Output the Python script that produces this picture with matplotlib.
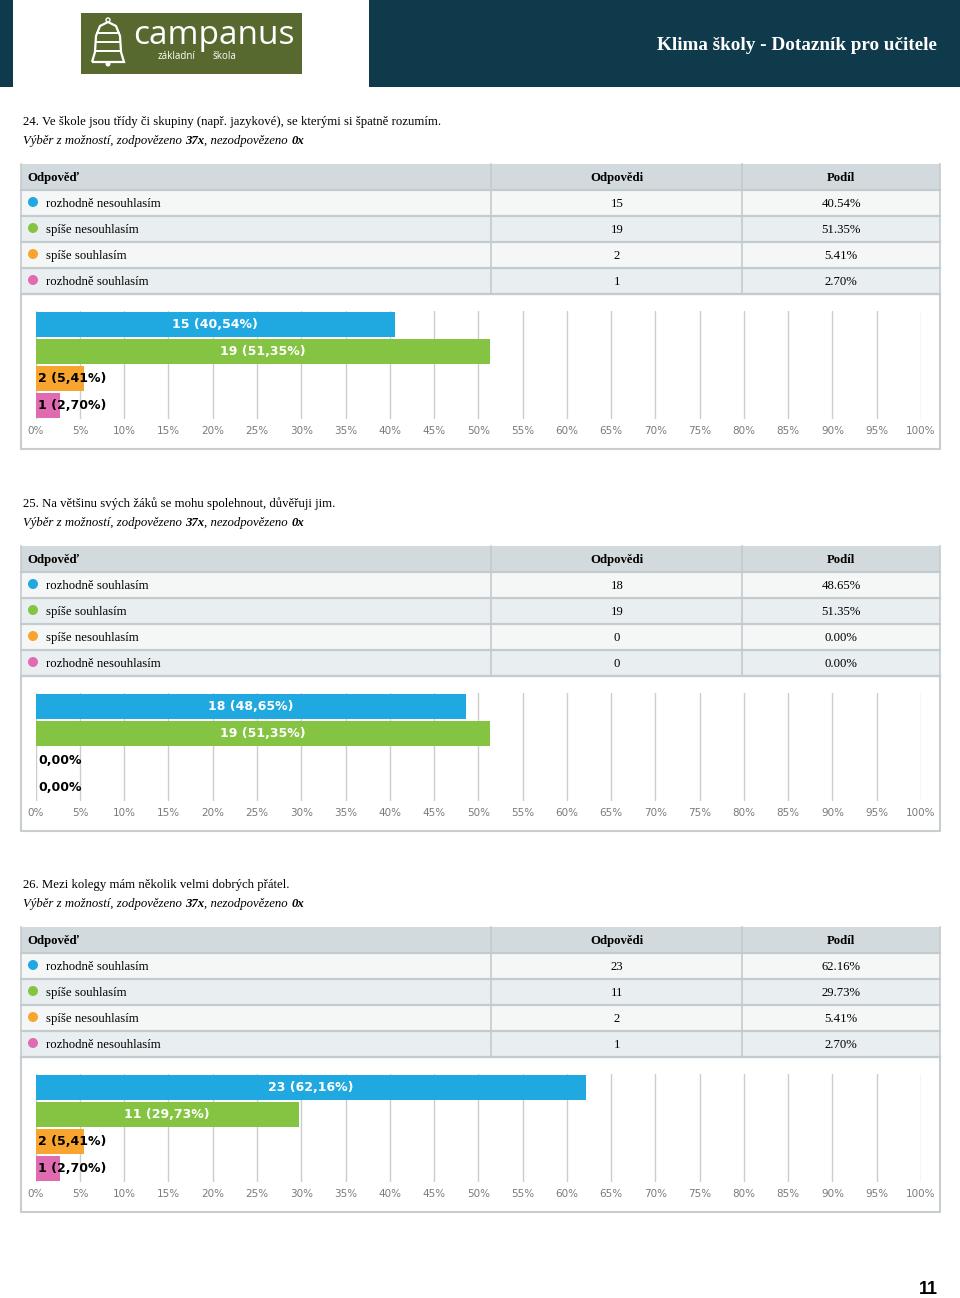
import matplotlib.pyplot as plt
from matplotlib.patches import Rectangle, Circle, PathPatch
from matplotlib.path import Path

plt.rcParams['font.family'] = ['Liberation Serif', 'DejaVu Serif']

# data
titles = [
    "24. Ve škole jsou třídy či skupiny (např. jazykové), se kterými si špatně rozumím.",
    "25. Na většinu svých žáků se mohu spolehnout, důvěřuji jim.",
    "26. Mezi kolegy mám několik velmi dobrých přátel.",
]
answered = [37, 37, 37]
unanswered = [0, 0, 0]

options_24 = ["rozhodně nesouhlasím", "spíše nesouhlasím", "spíše souhlasím", "rozhodně souhlasím"]
counts_24 = [15, 19, 2, 1]
shares_24 = [40.54, 51.35, 5.41, 2.70]

options_25 = ["rozhodně souhlasím", "spíše souhlasím", "spíše nesouhlasím", "rozhodně nesouhlasím"]
counts_25 = [18, 19, 0, 0]
shares_25 = [48.65, 51.35, 0.00, 0.00]

options_26 = ["rozhodně souhlasím", "spíše souhlasím", "spíše nesouhlasím", "rozhodně nesouhlasím"]
counts_26 = [23, 11, 2, 1]
shares_26 = [62.16, 29.73, 5.41, 2.70]

ticks_pct = [0, 5, 10, 15, 20, 25, 30, 35, 40, 45, 50, 55, 60, 65, 70, 75, 80, 85, 90, 95, 100]
col_headers = ["Odpověď", "Odpovědi", "Podíl"]
page_title = "Klima školy - Dotazník pro učitele"
page_no = "11"

colors = ['#20a8e0', '#85c443', '#f8a52f', '#e06bb0']
dark = '#0f3a4b'

W, H = 960, 1298
fig = plt.figure(figsize=(W / 100, H / 100), dpi=100)
ax = fig.add_axes([0, 0, 1, 1])
ax.set_xlim(0, W)
ax.set_ylim(H, 0)
ax.axis('off')


def rect(x0, y0, x1, y1, **kw):
    ax.add_patch(Rectangle((x0, y0), x1 - x0, y1 - y0, **kw))


# header band
rect(0, 0, 13, 87, fc=dark, ec='none')
rect(369, 0, W, 87, fc=dark, ec='none')
ax.text(937, 45, page_title, color='white', fontsize=13.8, fontweight='bold',
        ha='right', va='center')

# logo
rect(81, 13, 302, 74, fc='#57692f', ec='none')
bell = Path([(92, 62), (95, 52), (96, 36), (100, 26), (108, 22), (116, 26),
             (120, 36), (121, 52), (124, 62), (92, 62)])
ax.add_patch(PathPatch(bell, fc='none', ec='white', lw=1.6))
for yy in (33, 42, 51):
    ax.plot([97, 119], [yy, yy], color='white', lw=1.4)
ax.add_patch(Circle((108, 64), 2.5, fc='white', ec='none'))
ax.add_patch(Circle((108, 20), 2, fc='none', ec='white', lw=1))
ax.text(133, 44, "campanus", color='white', fontsize=24, family='Open Sans',
        ha='left', va='baseline')
ax.text(158, 59, "základní", color='white', fontsize=7, family='Open Sans',
        ha='left', va='baseline')
ax.text(213, 59, "škola", color='white', fontsize=7, family='Open Sans',
        ha='left', va='baseline')

fig.canvas.draw()
renderer = fig.canvas.get_renderer()


def run_text(x, y, parts, **kw):
    # place text pieces one after another on a line
    for s, style, weight in parts:
        t = ax.text(x, y, s, fontstyle=style, fontweight=weight, ha='left',
                    va='center', **kw)
        x += t.get_window_extent(renderer).width


sections = [
    (options_24, counts_24, shares_24),
    (options_25, counts_25, shares_25),
    (options_26, counts_26, shares_26),
]
offsets = [0, 382, 763]
fs = 9.2
row_h = 26

for k, (opts, cnts, shs) in enumerate(sections):
    o = offsets[k]
    ax.text(23, 122 + o, titles[k], fontsize=fs, ha='left', va='center')
    run_text(23, 141 + o, [
        ("Výběr z možností, zodpovězeno ", 'italic', 'normal'),
        (f"{answered[k]}x", 'italic', 'bold'),
        (", nezodpovězeno ", 'italic', 'normal'),
        (f"{unanswered[k]}x", 'italic', 'bold'),
    ], fontsize=fs)

    # table
    top = 164 + o
    hdr_b = 190 + o
    rect(21, top, 940, hdr_b, fc='#d2dadd', ec='none')
    ax.text(27, (top + hdr_b) / 2 + 1, col_headers[0], fontsize=fs, fontweight='bold', va='center')
    ax.text(617, (top + hdr_b) / 2 + 1, col_headers[1], fontsize=fs, fontweight='bold',
            va='center', ha='center')
    ax.text(841, (top + hdr_b) / 2 + 1, col_headers[2], fontsize=fs, fontweight='bold',
            va='center', ha='center')
    for i in range(len(opts)):
        y0 = hdr_b + i * row_h
        y1 = y0 + row_h
        rect(21, y0, 940, y1, fc='#f5f7f7' if i % 2 == 0 else '#e9eef0', ec='none')
        ax.plot([21, 940], [y0, y0], color='#c3cbcf', lw=1.6)
        yc = (y0 + y1) / 2
        ax.add_patch(Circle((33, yc - 1), 5, fc=colors[i], ec='none'))
        ax.text(46, yc + 1, opts[i], fontsize=fs, va='center')
        ax.text(617, yc + 1, str(cnts[i]), fontsize=fs, va='center', ha='center')
        ax.text(841, yc + 1, f"{shs[i]:.2f}%", fontsize=fs, va='center', ha='center')
    tab_b = hdr_b + len(opts) * row_h
    ax.plot([21, 940], [tab_b, tab_b], color='#c3cbcf', lw=1.6)
    for xx in (491, 742):
        ax.plot([xx, xx], [top, tab_b], color='#c3cbcf', lw=1.2)
    ax.plot([21, 21], [top, tab_b], color='#c3cbcf', lw=1.2)
    ax.plot([940, 940], [top, tab_b], color='#c3cbcf', lw=1.2)

    # chart box
    rect(21, tab_b, 940, 449 + o, fc='white', ec='#c8cdcf', lw=1.5)

    # bar chart
    x0, x1 = 35.7, 921
    y0, y1 = 311 + o, 419 + o
    bax = fig.add_axes([x0 / W, 1 - y1 / H, (x1 - x0) / W, (y1 - y0) / H])
    bax.set_facecolor('none')
    ypos = list(range(len(opts)))
    bax.barh(ypos, shs, height=0.93, color=colors, zorder=2)
    bax.set_xlim(0, 100)
    bax.set_ylim(len(opts) - 0.5, -0.5)
    bax.set_xticks(ticks_pct)
    bax.set_xticklabels([f"{t}%" for t in ticks_pct], fontsize=7.5, color='#7a7a7a',
                        family='DejaVu Sans')
    bax.tick_params(axis='x', length=0, pad=5)
    bax.set_yticks([])
    bax.grid(True, axis='x', color='#cccccc', lw=1, zorder=0)
    bax.set_axisbelow(True)
    for s in bax.spines.values():
        s.set_visible(False)
    for i, (c, s) in enumerate(zip(cnts, shs)):
        if c == 0:
            lab = f"{s:.2f}%".replace('.', ',')
        else:
            lab = f"{c} ({s:.2f}%)".replace('.', ',')
        if s >= 15:
            bax.text(s / 2, i, lab, color='white', fontsize=9, fontweight='bold',
                     family='DejaVu Sans', ha='center', va='center', zorder=3)
        else:
            bax.text(0.3, i, lab, color='black', fontsize=9, fontweight='bold',
                     family='DejaVu Sans', ha='left', va='center', zorder=3)

ax.text(928, 1290, page_no, fontsize=13, fontweight='bold', family='Liberation Sans',
        ha='center', va='center')

fig.savefig('out.png', dpi=100)
